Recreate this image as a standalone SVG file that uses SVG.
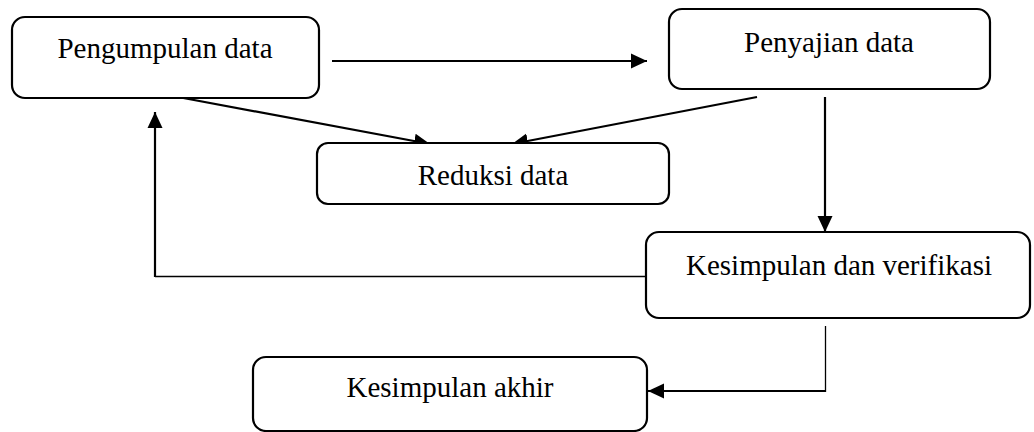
<svg xmlns="http://www.w3.org/2000/svg" width="1034" height="432" viewBox="0 0 1034 432">
<style>
.box{fill:#fff;stroke:#000;stroke-width:2.2}
.lbl{font-family:"Liberation Serif","Times New Roman",serif;font-size:29px;fill:#000;text-anchor:middle}
.c{fill:none;stroke:#000;stroke-width:2.2}
.t{fill:none;stroke:#000;stroke-width:1.3}
</style>
<defs>
<marker id="ah" markerUnits="userSpaceOnUse" markerWidth="18" markerHeight="16" refX="16" refY="8" orient="auto">
<path d="M0,0.5 L16,8 L0,15.5 Z" fill="#000"/>
</marker>
</defs>
<rect width="1034" height="432" fill="#fff"/>
<g id="connectors">
<line class="c" x1="332" y1="61" x2="647" y2="61" marker-end="url(#ah)"/>
<line class="c" x1="178" y1="97" x2="430" y2="144" marker-end="url(#ah)"/>
<line class="c" x1="757" y1="97" x2="512" y2="144" marker-end="url(#ah)"/>
<line class="c" x1="825" y1="97" x2="825" y2="232" marker-end="url(#ah)"/>
<line class="t" x1="646" y1="276.5" x2="155" y2="276.5"/>
<line class="c" x1="155" y1="277" x2="155" y2="112" marker-end="url(#ah)"/>
<line class="t" x1="825.5" y1="326" x2="825.5" y2="392"/>
<line class="c" x1="826" y1="391" x2="648" y2="391" marker-end="url(#ah)"/>
</g>
<g id="pengumpulan">
<rect class="box" x="12" y="17" width="307" height="81" rx="13"/>
<text class="lbl" x="165" y="58">Pengumpulan data</text>
</g>
<g id="penyajian">
<rect class="box" x="669" y="9" width="321" height="80" rx="13"/>
<text class="lbl" x="829" y="52">Penyajian data</text>
</g>
<g id="reduksi">
<rect class="box" x="317" y="143" width="352" height="61" rx="11"/>
<text class="lbl" x="493" y="185">Reduksi data</text>
</g>
<g id="kesimpulan-verifikasi">
<rect class="box" x="646" y="232" width="384" height="86" rx="13"/>
<text class="lbl" x="839" y="275">Kesimpulan dan verifikasi</text>
</g>
<g id="kesimpulan-akhir">
<rect class="box" x="253" y="357" width="394" height="74" rx="13"/>
<text class="lbl" x="450" y="397">Kesimpulan akhir</text>
</g>
</svg>
